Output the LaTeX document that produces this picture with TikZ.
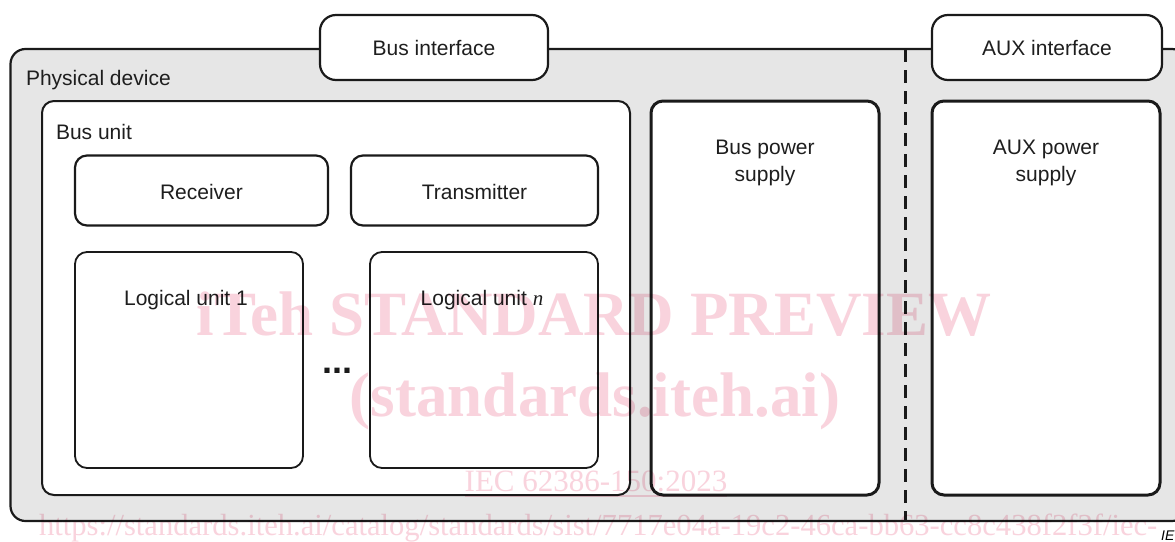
\documentclass[tikz,border=0pt]{standalone}
\usepackage{fontspec}
\setmainfont{Liberation Sans}
\newfontfamily\wmfont{Liberation Serif}
\definecolor{edge}{RGB}{26,26,26}
\definecolor{panel}{RGB}{230,230,230}
\definecolor{wm}{RGB}{249,211,221}
\definecolor{txt}{RGB}{30,30,30}
\begin{document}
\begin{tikzpicture}[x=1pt,y=-1pt,
  box/.style={draw=edge, fill=white, line width=2pt, rounded corners=12pt,
    shape=rectangle, inner sep=0pt, outer sep=0pt},
  thickbox/.style={box, line width=3pt},
  lbl/.style={text=txt, font=\fontsize{21}{27}\selectfont, inner sep=0pt, outer sep=0pt},
  wmtext/.style={text=wm, inner sep=0pt, outer sep=0pt},
]
\useasboundingbox (0,0) rectangle (1175,541);
\fill[white] (0,0) rectangle (1175,541);
\begin{scope}
\clip (0,0) rectangle (1175,541);
% physical device
\node[box, fill=panel, line width=2.2pt, rounded corners=15pt,
  minimum width=1176.5pt, minimum height=472pt] (phys) at (598.75,285) {};
\node[lbl, anchor=base west] (physl) at (26,85.5) {Physical device};
% dashed separator
\coordinate (dtop) at (905,49);
\coordinate (dbot) at (905,521);
\draw[edge, line width=3pt, dash pattern=on 13pt off 8pt] (dtop) -- (dbot);
% interfaces
\node[box, line width=2.2pt, rounded corners=16pt, minimum width=228pt, minimum height=65pt] (busif) at (434,47.5) {};
\node[lbl, anchor=base] (busifl) at (434,55) {Bus interface};
\node[box, line width=2.2pt, rounded corners=16pt, minimum width=230pt, minimum height=65pt] (auxif) at (1047,47.5) {};
\node[lbl, anchor=base] (auxifl) at (1047,55) {AUX interface};
% bus unit
\node[box, minimum width=588pt, minimum height=394pt] (busunit) at (336,298) {};
\node[lbl, anchor=base west] (busunitl) at (56,139.5) {Bus unit};
\node[box, line width=2.2pt, minimum width=253pt, minimum height=70pt] (recv) at (201.5,190.5) {};
\node[lbl, anchor=base] (recvl) at (201.5,199) {Receiver};
\node[box, line width=2.2pt, minimum width=247pt, minimum height=70pt] (trans) at (474.5,190.5) {};
\node[lbl, anchor=base] (transl) at (474.5,199) {Transmitter};
\node[box, line width=1.8pt, minimum width=228pt, minimum height=216pt] (lu1) at (189,360) {};
\node[lbl, anchor=base] (lu1l) at (186,305.5) {Logical unit 1};
\node[box, line width=1.8pt, minimum width=228pt, minimum height=216pt] (lun) at (484,360) {};
\node[lbl, anchor=base] (lunl) at (482,305.5) {Logical unit {\wmfont\itshape n}};
\node[text=edge, inner sep=0pt, font=\fontsize{36}{40}\selectfont\bfseries, anchor=base] (dots) at (337,373) {...};
% power supplies
\node[thickbox, minimum width=228pt, minimum height=394pt] (buspow) at (765,298) {};
\node[lbl, anchor=north, align=center] (buspowl) at (765,140.5) {Bus power\\supply};
\node[thickbox, minimum width=228pt, minimum height=394pt] (auxpow) at (1046,298) {};
\node[lbl, anchor=north, align=center] (auxpowl) at (1046,140.5) {AUX power\\supply};
% watermark
\begin{scope}[blend mode=multiply]
\node[wmtext, anchor=base, font=\wmfont\bfseries\fontsize{63}{70}\selectfont] (wm1) at (594,335) {iTeh STANDARD PREVIEW};
\node[wmtext, anchor=base, font=\wmfont\bfseries\fontsize{63}{70}\selectfont] (wm2) at (595,416) {(standards.iteh.ai)};
\node[wmtext, anchor=base, font=\wmfont\fontsize{31}{36}\selectfont] (wm3) at (596,491) {IEC 62386-150:2023};
\draw[wm, line width=1.8pt] ([yshift=-5pt]wm3.base west) -- ([yshift=-5pt]wm3.base east);
\node[wmtext, anchor=base west, font=\wmfont\fontsize{30.6}{36}\selectfont] (wm4) at (39,535) {https://standards.iteh.ai/catalog/standards/sist/7717e04a-19c2-46ca-bb63-cc8c438f2f3f/iec-};
\end{scope}
\node[text=black, inner sep=0pt, anchor=base west, font=\fontsize{14}{16}\selectfont\itshape] (figid) at (1161,540) {IE};
\end{scope}
\end{tikzpicture}
\end{document}
